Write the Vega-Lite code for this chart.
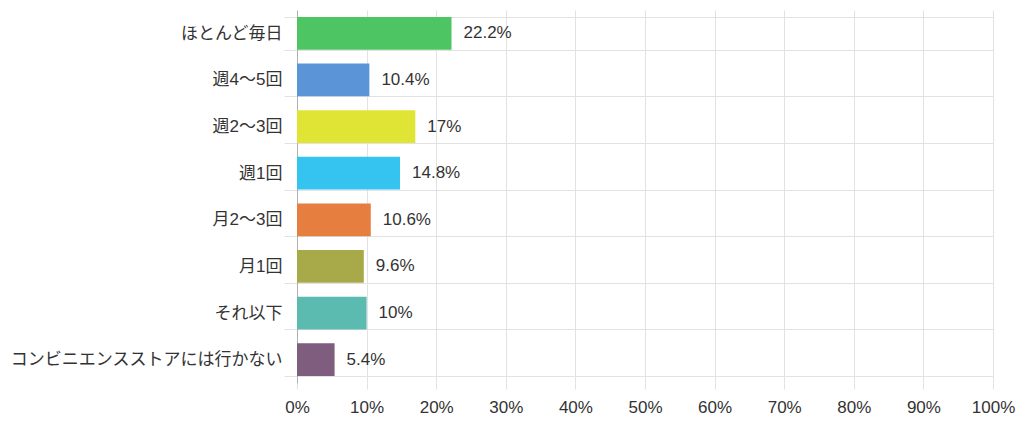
{
  "$schema": "https://vega.github.io/schema/vega-lite/v6.json",
  "autosize": "none",
  "width": 696,
  "height": 373,
  "padding": {"left": 297, "top": 10, "right": 31, "bottom": 38},
  "background": "white",
  "data": {
    "values": [
      {"cat": "ほとんど毎日", "value": 22.2, "label": "22.2%", "color": "#4dc563"},
      {"cat": "週4〜5回", "value": 10.4, "label": "10.4%", "color": "#5b95d8"},
      {"cat": "週2〜3回", "value": 17, "label": "17%", "color": "#e0e434"},
      {"cat": "週1回", "value": 14.8, "label": "14.8%", "color": "#34c4ef"},
      {"cat": "月2〜3回", "value": 10.6, "label": "10.6%", "color": "#e57e3e"},
      {"cat": "月1回", "value": 9.6, "label": "9.6%", "color": "#a8aa4a"},
      {"cat": "それ以下", "value": 10, "label": "10%", "color": "#5bbbb0"},
      {"cat": "コンビニエンスストアには行かない", "value": 5.4, "label": "5.4%", "color": "#7e5d7e"}
    ]
  },
  "encoding": {
    "y": {
      "field": "cat",
      "type": "nominal",
      "sort": null,
      "title": null,
      "scale": {"paddingInner": 0.3, "paddingOuter": 0.15},
      "axis": {
        "tickBand": "extent",
        "grid": true,
        "gridColor": "#e2e2e2",
        "tickColor": "#e2e2e2",
        "tickSize": 13,
        "domain": true,
        "domainColor": "#b0b0b0",
        "labelPadding": 2,
        "labelFont": "Liberation Sans, Noto Sans CJK JP",
        "labelFontSize": 17,
        "labelColor": "#333333",
        "labelLimit": 400
      }
    },
    "x": {
      "field": "value",
      "type": "quantitative",
      "title": null,
      "scale": {"domain": [0, 100], "nice": false},
      "axis": {
        "values": [0, 10, 20, 30, 40, 50, 60, 70, 80, 90, 100],
        "labelExpr": "datum.value + '%'",
        "grid": true,
        "gridColor": "#e2e2e2",
        "tickColor": "#e2e2e2",
        "tickSize": 6,
        "domain": false,
        "labelPadding": 10,
        "labelFont": "Liberation Sans, Noto Sans CJK JP",
        "labelFontSize": 17,
        "labelColor": "#333333",
        "labelFlush": false
      }
    }
  },
  "layer": [
    {
      "mark": {"type": "bar"},
      "encoding": {
        "color": {"field": "color", "type": "nominal", "scale": null, "legend": null}
      }
    },
    {
      "mark": {"type": "text", "align": "left", "baseline": "middle", "dx": 12, "fontSize": 17, "font": "Liberation Sans, Noto Sans CJK JP", "color": "#333333"},
      "encoding": {"text": {"field": "label"}}
    }
  ],
  "config": {"view": {"stroke": null}}
}
